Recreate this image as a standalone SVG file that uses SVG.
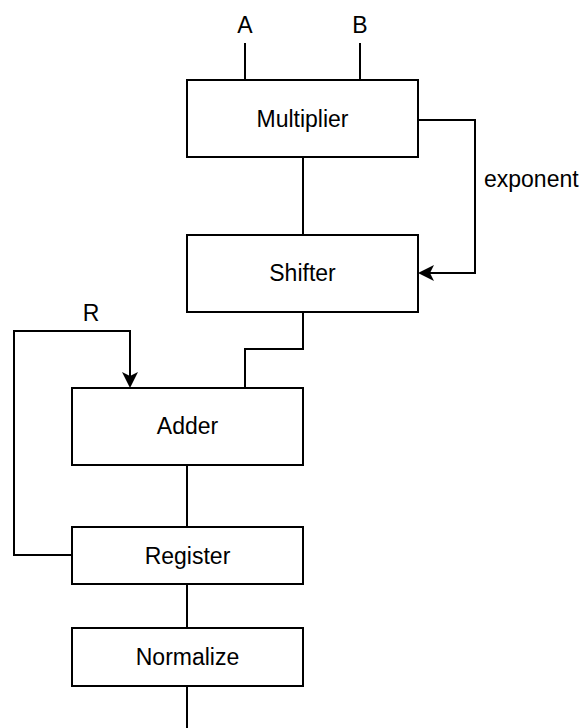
<svg xmlns="http://www.w3.org/2000/svg" width="582" height="728" viewBox="0 0 582 728">
<style>
.box{fill:#fff;stroke:#000;stroke-width:2}
.ln{fill:none;stroke:#000;stroke-width:2}
text{font-family:"Liberation Sans",Arial,sans-serif;font-size:23px;fill:#000}
.c{text-anchor:middle}
</style>
<defs>
<marker id="arr" markerUnits="userSpaceOnUse" viewBox="0 0 16 16" markerWidth="16" markerHeight="16" refX="14" refY="8" orient="auto">
<path d="M0,0 L16,8 L0,16 L4,8 Z" fill="#000"/>
</marker>
</defs>
<rect width="582" height="728" fill="#fff"/>
<g id="connectors">
<path class="ln" d="M245,43 V80"/>
<path class="ln" d="M360,43 V80"/>
<path class="ln" d="M303,157 V235"/>
<path class="ln" d="M418,120 H475 V273 H420" marker-end="url(#arr)"/>
<path class="ln" d="M303,312 V349 H245 V388"/>
<path class="ln" d="M72,555 H14 V331 H130 V386" marker-end="url(#arr)"/>
<path class="ln" d="M187,465 V527"/>
<path class="ln" d="M187,584 V628"/>
<path class="ln" d="M187,686 V728"/>
<text class="c" x="245" y="33">A</text>
<text class="c" x="360" y="33">B</text>
<text x="484" y="187">exponent</text>
<text class="c" x="91" y="321">R</text>
</g>
<g id="multiplier">
<rect class="box" x="187" y="80" width="231" height="77"/>
<text class="c" x="302.5" y="127">Multiplier</text>
</g>
<g id="shifter">
<rect class="box" x="187" y="235" width="231" height="77"/>
<text class="c" x="302.5" y="281">Shifter</text>
</g>
<g id="adder">
<rect class="box" x="72" y="388" width="231" height="77"/>
<text class="c" x="187.5" y="434">Adder</text>
</g>
<g id="register">
<rect class="box" x="72" y="527" width="231" height="57"/>
<text class="c" x="187.5" y="564">Register</text>
</g>
<g id="normalize">
<rect class="box" x="72" y="628" width="231" height="58"/>
<text class="c" x="187.5" y="665">Normalize</text>
</g>
</svg>
